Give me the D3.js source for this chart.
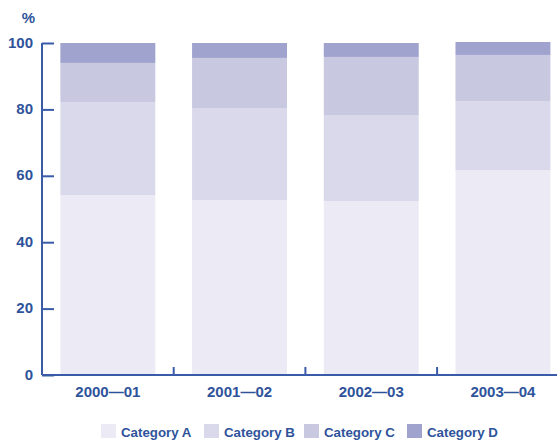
<!DOCTYPE html>
<html>
<head>
<meta charset="utf-8">
<script src="https://cdn.jsdelivr.net/npm/d3@7"></script>
<style>
  html, body { margin: 0; padding: 0; background: #fff; }
  svg { display: block; }
  text { font-family: "Liberation Sans", Arial, sans-serif; font-weight: bold; fill: #2f539b; }
</style>
</head>
<body>
<svg id="chart" width="557" height="441"></svg>
<script>
const periods = ["2000\u201401", "2001\u201402", "2002\u201403", "2003\u201404"];
const seriesNames = ["Category A", "Category B", "Category C", "Category D"];
const categoryA = [54.2, 52.7, 52.4, 61.7];
const categoryB = [28.0, 27.7, 25.9, 20.8];
const categoryC = [11.8, 15.1, 17.5, 13.9];
const categoryD = [6.0, 4.5, 4.2, 3.9];
const yTicks = [0, 20, 40, 60, 80, 100];
const colors = ["#ecebf5", "#dad9eb", "#c8c8e0", "#a1a3cf"];
const axisColor = "#3a5ca8";

const svg = d3.select("#chart");
const x0 = 42, yZero = 375, yTop = 43;

const rows = periods.map((p, i) => ({
  period: p,
  "Category A": categoryA[i],
  "Category B": categoryB[i],
  "Category C": categoryC[i],
  "Category D": categoryD[i]
}));
const stacked = d3.stack().keys(seriesNames)(rows);

const x = d3.scaleBand().domain(periods).range([x0, x0 + 4 * 131.7]).paddingInner(0.279).paddingOuter(0.1395);
const y = d3.scaleLinear().domain([0, 100]).range([yZero, yTop]);

// bars
svg.append("g").selectAll("g").data(stacked).join("g")
  .attr("fill", (d, i) => colors[i])
  .selectAll("rect").data(d => d).join("rect")
  .attr("x", d => x(d.data.period))
  .attr("width", x.bandwidth())
  .attr("y", d => y(d[1]))
  .attr("height", d => y(d[0]) - y(d[1]));

// y axis
const yAxis = svg.append("g").attr("transform", `translate(${x0},0)`)
  .call(d3.axisRight(y).tickValues(yTicks).tickSize(12).tickFormat(""));
yAxis.select(".domain").attr("stroke", axisColor).attr("stroke-width", 2).attr("d", `M0,${yTop}V${yZero}`);
yAxis.selectAll(".tick line").attr("stroke", axisColor).attr("stroke-width", 2);

svg.append("g").selectAll("text").data(yTicks).join("text")
  .attr("x", 33).attr("y", d => y(d)).attr("dy", "0.3em")
  .attr("text-anchor", "end").style("font-size", "15px")
  .text(d => d);

svg.append("text").attr("x", 35).attr("y", 23).attr("text-anchor", "end")
  .style("font-size", "15px").text("%");

// x axis
const xAxisG = svg.append("g");
xAxisG.append("line").attr("x1", x0).attr("x2", 557).attr("y1", yZero).attr("y2", yZero)
  .attr("stroke", axisColor).attr("stroke-width", 2);
xAxisG.selectAll("line.tk").data(periods.slice(1)).join("line").attr("class", "tk")
  .attr("x1", p => x(p) - (x.step() - x.bandwidth()) / 2)
  .attr("x2", p => x(p) - (x.step() - x.bandwidth()) / 2)
  .attr("y1", yZero).attr("y2", yZero - 8)
  .attr("stroke", axisColor).attr("stroke-width", 2);

svg.append("g").selectAll("text").data(periods).join("text")
  .attr("x", p => x(p) + x.bandwidth() / 2).attr("y", 397)
  .attr("text-anchor", "middle").style("font-size", "15px")
  .text(p => p);

// legend
const legendX = [101, 204, 304, 407];
const lg = svg.append("g").selectAll("g").data(seriesNames).join("g")
  .attr("transform", (d, i) => `translate(${legendX[i]},424)`);
lg.append("rect").attr("width", 15).attr("height", 14).attr("fill", (d, i) => colors[i]);
lg.append("text").attr("x", 20).attr("y", 13).style("font-size", "13.3px").text(d => d);
</script>
</body>
</html>
